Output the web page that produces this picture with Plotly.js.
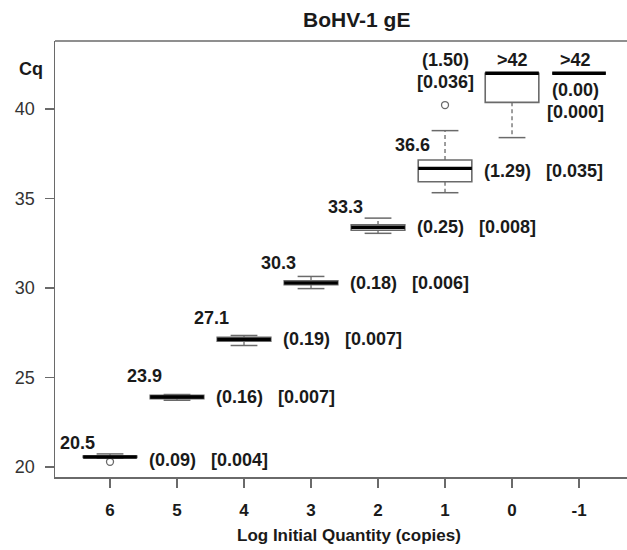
<!DOCTYPE html>
<html><head><meta charset="utf-8">
<script src="https://cdn.plot.ly/plotly-3.0.1.min.js"></script>
<style>html,body{margin:0;padding:0;background:#fff;overflow:hidden}</style>
</head><body><div id="chart" style="width:627px;height:550px"></div>
<script>
// ---- data ----
const positions = [1, 2, 3, 4, 5, 6, 7, 8];
const tickLabels = ['6', '5', '4', '3', '2', '1', '0', '-1'];
const medians    = [20.55, 23.90, 27.12, 30.28, 33.38, 36.68, 42.00, 42.00];
const q1         = [20.52, 23.80, 27.02, 30.18, 33.22, 35.93, 40.37, 42.00];
const q3         = [20.60, 24.00, 27.24, 30.40, 33.52, 37.15, 42.00, 42.00];
const lowWhisk   = [20.50, 23.72, 26.78, 29.96, 33.05, 35.32, 38.40, 42.00];
const highWhisk  = [20.72, 24.04, 27.34, 30.64, 33.90, 38.79, 42.00, 42.00];
const outlierPos = [1, 6];
const outlierVal = [20.28, 40.22];
const medianText = ['20.5', '23.9', '27.1', '30.3', '33.3', '36.6'];
const sdText     = ['(0.09)', '(0.16)', '(0.19)', '(0.18)', '(0.25)', '(1.29)'];
const cvText     = ['[0.004]', '[0.007]', '[0.007]', '[0.006]', '[0.008]', '[0.035]'];
const topTexts   = [
  {pos: 6, lines: ['(1.50)', '[0.036]']},
  {pos: 7, lines: ['>42']},
  {pos: 8, lines: ['>42', '(0.00)', '[0.000]']}
];

// ---- style / layout helpers ----
const FAM = 'Liberation Sans, Arial, sans-serif';
const GRAY = '#6a6a6a';
const half = 0.4, capHalf = 0.2;

const boxTrace = {
  type: 'box', x: positions, q1: q1, median: medians, q3: q3,
  lowerfence: q1, upperfence: q3, width: 2 * half,
  fillcolor: '#ffffff', line: {color: GRAY, width: 1.6},
  boxpoints: false, hoverinfo: 'skip', showlegend: false
};

const wx = [], wy = [], cx = [], cy = [], mx = [], my = [];
positions.forEach((p, i) => {
  wx.push(p, p, null, p, p, null);
  wy.push(q3[i], highWhisk[i], null, q1[i], lowWhisk[i], null);
  cx.push(p - capHalf, p + capHalf, null, p - capHalf, p + capHalf, null);
  cy.push(highWhisk[i], highWhisk[i], null, lowWhisk[i], lowWhisk[i], null);
  mx.push(p - half, p + half, null);
  my.push(medians[i], medians[i], null);
});
const whiskTrace = {type: 'scatter', mode: 'lines', x: wx, y: wy,
  line: {color: GRAY, width: 1.3, dash: '4px,3px'}, hoverinfo: 'skip', showlegend: false};
const capTrace = {type: 'scatter', mode: 'lines', x: cx, y: cy,
  line: {color: GRAY, width: 1.5}, hoverinfo: 'skip', showlegend: false};
const medTrace = {type: 'scatter', mode: 'lines', x: mx, y: my,
  line: {color: '#000000', width: 3.4}, hoverinfo: 'skip', showlegend: false};
const outTrace = {type: 'scatter', mode: 'markers', x: outlierPos, y: outlierVal,
  marker: {symbol: 'circle-open', size: 7, color: GRAY, line: {width: 1.3}},
  hoverinfo: 'skip', showlegend: false};

const lblFont = {family: FAM, size: 18, color: '#1a1a1a', weight: 'bold'};
const medDy = [0.76, 1.16, 1.17, 1.12, 1.15, 1.31];
const annotations = [];
medianText.forEach((t, i) => {
  annotations.push({x: positions[i] - 0.48, y: medians[i] + medDy[i], xref: 'x', yref: 'y',
    text: t, showarrow: false, font: lblFont, xanchor: 'center', yanchor: 'middle'});
  annotations.push({x: positions[i] + 0.55, y: medians[i] - (i === 0 || i === 5 ? 0.15 : 0), xref: 'x', yref: 'y',
    text: sdText[i] + '\u00a0\u00a0\u00a0' + cvText[i], showarrow: false, font: lblFont,
    xanchor: 'left', yanchor: 'middle'});
});
const topY = [42.74, 41.53, 40.34];
const topYLast = [42.74, 41.07, 39.85];
topTexts.forEach(tt => {
  tt.lines.forEach((ln, j) => {
    const ys = tt.pos === 8 ? topYLast : topY;
    annotations.push({x: tt.pos - (tt.pos === 8 ? 0.05 : 0), y: ys[j], xref: 'x', yref: 'y',
      text: ln, showarrow: false, font: lblFont, xanchor: 'center', yanchor: 'middle'});
  });
});
annotations.push({x: -0.042, y: 42.24, xref: 'paper', yref: 'y', text: 'Cq', showarrow: false,
  font: {family: FAM, size: 18, color: '#1a1a1a', weight: 'bold'}, xanchor: 'center', yanchor: 'middle'});
annotations.push({x: 0.514, y: -0.134, xref: 'paper', yref: 'paper', text: 'Log Initial Quantity (copies)',
  showarrow: false, font: {family: FAM, size: 17, color: '#1a1a1a', weight: 'bold'},
  xanchor: 'center', yanchor: 'middle'});

const layout = {
  width: 627, height: 550,
  margin: {l: 55, r: 0, t: 41, b: 73},
  paper_bgcolor: '#ffffff', plot_bgcolor: '#ffffff',
  title: {text: 'BoHV-1 gE', x: 0.569, xref: 'container', xanchor: 'center',
    y: 0.9645, yref: 'container', yanchor: 'middle',
    font: {family: FAM, size: 21, color: '#1a1a1a', weight: 'bold'}},
  xaxis: {range: [0.179, 8.716], tickvals: positions, ticktext: tickLabels,
    showgrid: false, zeroline: false, showline: true, linecolor: GRAY, linewidth: 1.5,
    ticks: 'outside', ticklen: 9, tickwidth: 1.5, tickcolor: GRAY, ticklabelstandoff: 8,
    tickfont: {family: FAM, size: 17, color: '#1a1a1a', weight: 'bold'}},
  yaxis: {range: [19.43, 43.80], tickvals: [20, 25, 30, 35, 40],
    showgrid: false, zeroline: false, showline: true, linecolor: GRAY, linewidth: 1.5,
    ticks: 'outside', ticklen: 9, tickwidth: 1.5, tickcolor: GRAY, ticklabelstandoff: 6,
    tickfont: {family: FAM, size: 18, color: '#333333'}},
  shapes: [{type: 'line', xref: 'paper', yref: 'paper', x0: 0, x1: 1, y0: 1, y1: 1,
    line: {color: GRAY, width: 1.5}}],
  annotations: annotations,
  showlegend: false
};

Plotly.newPlot('chart', [boxTrace, whiskTrace, capTrace, outTrace, medTrace], layout,
  {staticPlot: true, displayModeBar: false});
</script></body></html>
